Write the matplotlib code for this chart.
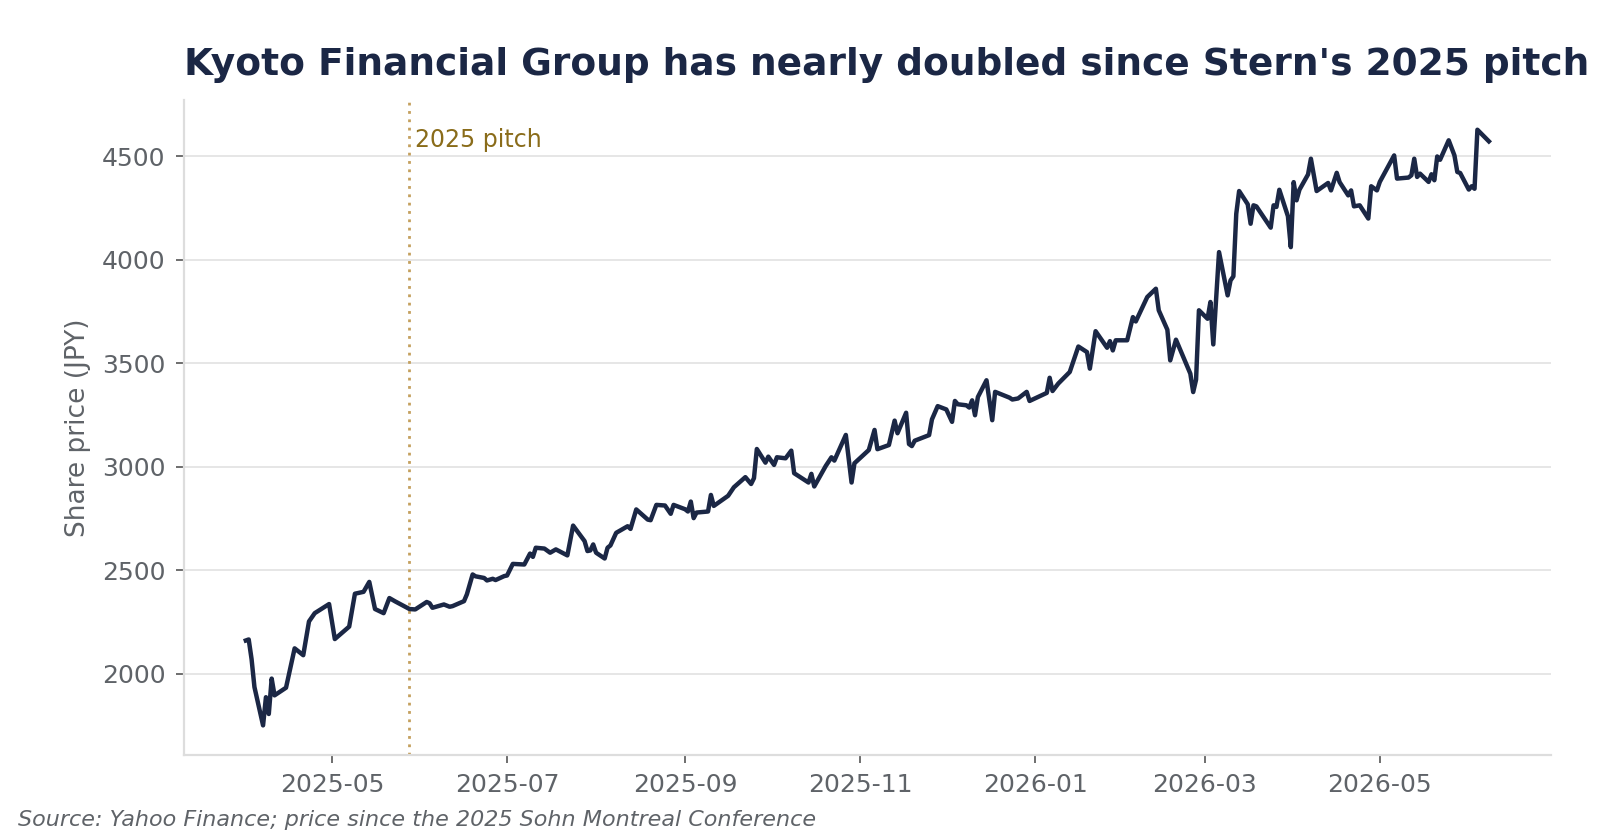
import matplotlib
matplotlib.use("Agg")
import matplotlib.pyplot as plt
import matplotlib.dates as mdates
import pandas as pd

# Kyoto Financial Group share price (JPY)
dates = [
    "2025-04-01", "2025-04-02", "2025-04-03", "2025-04-04", "2025-04-07", "2025-04-08",
    "2025-04-09", "2025-04-10", "2025-04-11", "2025-04-15", "2025-04-18", "2025-04-21",
    "2025-04-23", "2025-04-25", "2025-04-30", "2025-05-02", "2025-05-07", "2025-05-09",
    "2025-05-12", "2025-05-14", "2025-05-16", "2025-05-19", "2025-05-21", "2025-05-23",
    "2025-05-28", "2025-05-30", "2025-06-03", "2025-06-04", "2025-06-05", "2025-06-09",
    "2025-06-11", "2025-06-12", "2025-06-16", "2025-06-17", "2025-06-19", "2025-06-20",
    "2025-06-23", "2025-06-24", "2025-06-26", "2025-06-27", "2025-06-30", "2025-07-01",
    "2025-07-03", "2025-07-07", "2025-07-09", "2025-07-10", "2025-07-11", "2025-07-14",
    "2025-07-16", "2025-07-18", "2025-07-22", "2025-07-24", "2025-07-28", "2025-07-29",
    "2025-07-30", "2025-07-31", "2025-08-01", "2025-08-04", "2025-08-05", "2025-08-06",
    "2025-08-08", "2025-08-12", "2025-08-13", "2025-08-15", "2025-08-19", "2025-08-20",
    "2025-08-22", "2025-08-25", "2025-08-27", "2025-08-28", "2025-09-01", "2025-09-02",
    "2025-09-03", "2025-09-04", "2025-09-05", "2025-09-09", "2025-09-10", "2025-09-11",
    "2025-09-16", "2025-09-18", "2025-09-22", "2025-09-24", "2025-09-25", "2025-09-26",
    "2025-09-29", "2025-09-30", "2025-10-02", "2025-10-03", "2025-10-06", "2025-10-08",
    "2025-10-09", "2025-10-14", "2025-10-15", "2025-10-16", "2025-10-20", "2025-10-22",
    "2025-10-23", "2025-10-27", "2025-10-29", "2025-10-30", "2025-11-04", "2025-11-06",
    "2025-11-07", "2025-11-11", "2025-11-13", "2025-11-14", "2025-11-17", "2025-11-18",
    "2025-11-19", "2025-11-20", "2025-11-25", "2025-11-26", "2025-11-28", "2025-12-01",
    "2025-12-03", "2025-12-04", "2025-12-05", "2025-12-08", "2025-12-09", "2025-12-10",
    "2025-12-11", "2025-12-12", "2025-12-15", "2025-12-17", "2025-12-18", "2025-12-23",
    "2025-12-24", "2025-12-26", "2025-12-29", "2025-12-30", "2026-01-05", "2026-01-06",
    "2026-01-07", "2026-01-09", "2026-01-13", "2026-01-16", "2026-01-19", "2026-01-20",
    "2026-01-22", "2026-01-26", "2026-01-27", "2026-01-28", "2026-01-29", "2026-02-02",
    "2026-02-04", "2026-02-05", "2026-02-09", "2026-02-12", "2026-02-13", "2026-02-16",
    "2026-02-17", "2026-02-19", "2026-02-23", "2026-02-24", "2026-02-25", "2026-02-26",
    "2026-02-27", "2026-03-02", "2026-03-03", "2026-03-04", "2026-03-06", "2026-03-09",
    "2026-03-10", "2026-03-11", "2026-03-12", "2026-03-13", "2026-03-16", "2026-03-17",
    "2026-03-18", "2026-03-19", "2026-03-24", "2026-03-25", "2026-03-26", "2026-03-27",
    "2026-03-30", "2026-03-31", "2026-04-01", "2026-04-02", "2026-04-03", "2026-04-06",
    "2026-04-07", "2026-04-09", "2026-04-13", "2026-04-14", "2026-04-16", "2026-04-17",
    "2026-04-20", "2026-04-21", "2026-04-22", "2026-04-24", "2026-04-27", "2026-04-28",
    "2026-04-30", "2026-05-01", "2026-05-06", "2026-05-07", "2026-05-11", "2026-05-12",
    "2026-05-13", "2026-05-14", "2026-05-15", "2026-05-18", "2026-05-19", "2026-05-20",
    "2026-05-21", "2026-05-22", "2026-05-25", "2026-05-27", "2026-05-28", "2026-05-29",
    "2026-06-01", "2026-06-02", "2026-06-03", "2026-06-04", "2026-06-08",
]
prices = [
    2160, 2165, 2070, 1935, 1750, 1886,
    1805, 1976, 1895, 1932, 2122, 2089,
    2252, 2292, 2336, 2167, 2227, 2386,
    2395, 2443, 2312, 2292, 2365, 2349,
    2312, 2310, 2346, 2340, 2318, 2334,
    2323, 2326, 2350, 2383, 2479, 2470,
    2462, 2450, 2458, 2452, 2471, 2474,
    2530, 2527, 2580, 2564, 2608, 2604,
    2584, 2600, 2571, 2715, 2640, 2592,
    2595, 2624, 2584, 2556, 2608, 2619,
    2680, 2712, 2699, 2793, 2744, 2741,
    2815, 2812, 2772, 2815, 2794, 2783,
    2831, 2751, 2778, 2783, 2863, 2810,
    2859, 2900, 2949, 2916, 2944, 3085,
    3019, 3048, 3008, 3045, 3040, 3077,
    2968, 2923, 2965, 2904, 3003, 3045,
    3029, 3153, 2923, 3016, 3080, 3177,
    3084, 3104, 3222, 3161, 3260, 3109,
    3099, 3125, 3152, 3228, 3292, 3276,
    3216, 3317, 3301, 3296, 3285, 3320,
    3248, 3336, 3417, 3224, 3361, 3333,
    3324, 3329, 3361, 3317, 3356, 3429,
    3365, 3401, 3457, 3580, 3553, 3473,
    3654, 3574, 3606, 3561, 3610, 3610,
    3722, 3701, 3819, 3859, 3755, 3661,
    3513, 3613, 3481, 3449, 3360, 3420,
    3755, 3714, 3795, 3590, 4036, 3827,
    3899, 3919, 4221, 4331, 4267, 4173,
    4262, 4257, 4154, 4262, 4254, 4337,
    4209, 4060, 4374, 4286, 4337, 4411,
    4487, 4331, 4370, 4334, 4419, 4374,
    4310, 4334, 4257, 4262, 4198, 4354,
    4334, 4375, 4503, 4391, 4396, 4407,
    4487, 4399, 4415, 4375, 4412, 4383,
    4498, 4482, 4576, 4503, 4423, 4418,
    4338, 4354, 4342, 4627, 4571,
]
pitch_date = "2025-05-28"
pitch_label = "2025 pitch"

title = "Kyoto Financial Group has nearly doubled since Stern's 2025 pitch"
ylabel = "Share price (JPY)"
source = "Source: Yahoo Finance; price since the 2025 Sohn Montreal Conference"

navy = "#1b2745"
gray = "#5f6368"

df = pd.DataFrame({"date": pd.to_datetime(dates), "price": prices})

fig, ax = plt.subplots(figsize=(8, 4.2), dpi=200)
fig.subplots_adjust(left=0.1148, right=0.9694, top=0.881, bottom=0.101)

ax.plot(df["date"], df["price"], color=navy, linewidth=1.6, zorder=3)

# pitch marker
pd_pitch = pd.Timestamp(pitch_date)
ax.axvline(pd_pitch, color="#c4a05e", linestyle=(0, (1, 2)), linewidth=1.0, zorder=2)
ax.text(pd_pitch + pd.Timedelta(days=2), 0.957, pitch_label,
        transform=ax.get_xaxis_transform(), ha="left", va="top",
        color="#8a6c1a", fontsize=8.5)

ax.set_title(title, loc="left", fontsize=13.5, fontweight="bold", color=navy, pad=9)
ax.set_ylabel(ylabel, color=gray, fontsize=9.5)

ax.xaxis.set_major_locator(mdates.MonthLocator(bymonth=[1, 3, 5, 7, 9, 11]))
ax.xaxis.set_major_formatter(mdates.DateFormatter("%Y-%m"))
ax.set_yticks([2000, 2500, 3000, 3500, 4000, 4500])

ax.grid(axis="y", color="#e6e6e6", linewidth=0.7)
ax.set_axisbelow(True)
for side in ["top", "right"]:
    ax.spines[side].set_visible(False)
for side in ["left", "bottom"]:
    ax.spines[side].set_color("#dddddd")
    ax.spines[side].set_linewidth(0.8)
ax.tick_params(colors=gray, labelsize=9, length=3, width=0.6)
ax.tick_params(axis="both", color="#555555")

fig.text(0.011, 0.017, source, fontsize=8, style="italic", color=gray, ha="left")

fig.savefig("out.png", dpi=200, facecolor="white")
